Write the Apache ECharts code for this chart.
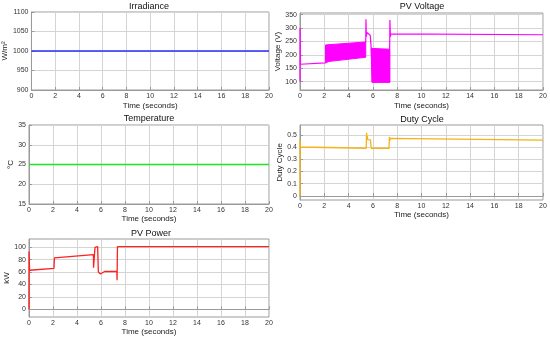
<!DOCTYPE html>
<html>
<head>
<meta charset="utf-8">
<script src="https://cdn.jsdelivr.net/npm/echarts@6/dist/echarts.min.js"></script>
<style>
html,body{margin:0;padding:0;background:#fff;}
#c{width:550px;height:339px;}
</style>
</head>
<body>
<div id="c"></div>
<script>
// ---------- data ----------
const titles = ['Irradiance', 'PV Voltage', 'Temperature', 'Duty Cycle', 'PV Power'];
const yNames = ['W/m\u00B2', 'Voltage (V)', '\u00B0C', 'Duty Cycle', 'kW'];
const xName = 'Time (seconds)';
const xTicks = [0, 2, 4, 6, 8, 10, 12, 14, 16, 18, 20];

const irrT = [0, 20];
const irrV = [1000, 1000];
const irrTicks = [900, 950, 1000, 1050, 1100];

const tempT = [0, 20];
const tempV = [25, 25];
const tempTicks = [15, 20, 25, 30, 35];

const voltT = [0, 0.005, 0.04, 0.1, 2.08, 2.1, 5.41, 5.43, 5.46, 5.5, 5.56, 5.78, 5.86, 5.95, 7.38, 7.38, 7.40, 7.44, 7.47, 7.55, 20];
const voltV = [100, 300, 165, 163, 170, 174, 248, 333, 268, 283, 276, 273, 224, 98, 98, 221, 330, 268, 278, 275, 275];
// oscillation envelopes (lower / upper edge of the switching band)
const band1T = [2.1, 5.41];
const band1Lo = [174, 191];
const band1Hi = [237, 248];
const band2T = [5.86, 5.95, 7.38];
const band2Lo = [224, 98, 98];
const band2Hi = [224, 224, 221];
const voltTicks = [100, 150, 200, 250, 300, 350];

const dutyT = [0, 0.005, 0.03, 0.08, 5.45, 5.48, 5.51, 5.54, 5.57, 5.62, 5.8, 5.86, 7.33, 7.36, 7.39, 7.43, 7.5, 20];
const dutyV = [0, 0.46, 0.40, 0.39, 0.39, 0.516, 0.46, 0.49, 0.46, 0.465, 0.458, 0.39, 0.39, 0.483, 0.45, 0.47, 0.456, 0.456];
const dutyTicks = [0, 0.1, 0.2, 0.3, 0.4, 0.5];

const powT = [0, 0.005, 0.05, 2.08, 2.12, 5.37, 5.38, 5.45, 5.5, 5.6, 5.72, 5.78, 5.85, 5.95, 6.1, 6.3, 7.32, 7.34, 7.37, 7.42, 20];
const powV = [0, 93, 63, 66, 83, 88, 67, 70, 100, 101, 101, 60, 58, 57, 60, 61, 61, 47, 101, 101, 101];
const powTicks = [0, 20, 40, 60, 80, 100];

// ---------- layout / style ----------
const FONT = '"Liberation Sans", Arial, Helvetica, sans-serif';
const AX = '#9a9a9a';
const GRIDLINE = '#d4d4d4';
const TXT = '#333';

const grids = [
  {left: 29, top: 12, width: 240, height: 78},
  {left: 300, top: 13, width: 243, height: 77},
  {left: 29, top: 125, width: 240, height: 79},
  {left: 300, top: 125, width: 243, height: 75},
  {left: 29, top: 239, width: 240, height: 78}
];
const yRanges = [[900, 1100], [69, 356], [15, 35], [-0.033, 0.58], [-12.3, 113.3]];
const yTickSets = [irrTicks, voltTicks, tempTicks, dutyTicks, powTicks];
const yNameGaps = [15, 13, 12, 13, 15];
const xNameGaps = [12, 12, 10, 11, 10];
const titlePos = [[149, 2], [422, 2], [149, 114], [422, 115], [151, 229]];

function pairs(t, v) { return t.map((x, i) => [x, v[i]]); }

function bandSeries(T, Lo, Hi) {
  return {
    type: 'custom', coordinateSystem: 'cartesian2d', xAxisIndex: 1, yAxisIndex: 1, z: 3,
    data: T.slice(0, -1).map((t, i) => [t, Lo[i], Hi[i]]),
    encode: {x: 0, y: [1, 2]},
    renderItem: function (params, api) {
      const i = params.dataIndex;
      const pts = [
        api.coord([T[i], Lo[i]]), api.coord([T[i + 1], Lo[i + 1]]),
        api.coord([T[i + 1], Hi[i + 1]]), api.coord([T[i], Hi[i]])
      ];
      return {type: 'polygon', shape: {points: pts},
        style: {fill: '#ff00ff', stroke: '#ff00ff', lineWidth: 1}};
    }
  };
}

const option = {
  animation: false,
  backgroundColor: '#fff',
  textStyle: {fontFamily: FONT},
  title: titles.map((t, i) => ({
    text: t, left: titlePos[i][0], top: titlePos[i][1], textAlign: 'center', padding: 0,
    textStyle: {fontSize: 9, fontWeight: 'normal', color: '#111', fontFamily: FONT}
  })),
  grid: grids.map(g => Object.assign({show: true, borderColor: AX, borderWidth: 1, backgroundColor: 'transparent'}, g)),
  xAxis: grids.map((g, i) => ({
    type: 'value', gridIndex: i, min: 0, max: 20, interval: 2,
    name: xName, nameLocation: 'middle', nameGap: xNameGaps[i],
    nameTextStyle: {fontSize: 8, color: '#222', fontFamily: FONT},
    axisLine: {show: true, lineStyle: {color: AX, width: 1}},
    axisTick: {show: true, inside: true, length: 3, lineStyle: {color: AX}},
    axisLabel: {fontSize: 7, color: TXT, margin: 3, fontFamily: FONT, formatter: v => String(v)},
    splitLine: {show: true, lineStyle: {color: GRIDLINE, width: 1}}
  })),
  yAxis: grids.map((g, i) => ({
    type: 'value', gridIndex: i, min: yRanges[i][0], max: yRanges[i][1],
    name: yNames[i], nameLocation: 'middle', nameGap: yNameGaps[i],
    nameTextStyle: {fontSize: 8, color: '#222', fontFamily: FONT},
    axisLine: {show: true, lineStyle: {color: AX, width: 1}},
    axisTick: {show: true, inside: true, length: 3, lineStyle: {color: AX}, customValues: yTickSets[i]},
    axisLabel: {fontSize: 7, color: TXT, margin: 3, fontFamily: FONT, customValues: yTickSets[i],
      formatter: v => String(+v.toFixed(4))},
    splitLine: {show: true, lineStyle: {color: GRIDLINE, width: 1}}
  })),
  series: [
    {type: 'line', xAxisIndex: 0, yAxisIndex: 0, data: pairs(irrT, irrV), symbol: 'none',
      lineStyle: {color: '#2b2bff', width: 1.5}},
    {type: 'line', xAxisIndex: 2, yAxisIndex: 2, data: pairs(tempT, tempV), symbol: 'none',
      lineStyle: {color: '#1ee61e', width: 1.3}},
    {type: 'line', xAxisIndex: 1, yAxisIndex: 1, data: pairs(voltT, voltV), symbol: 'none',
      lineStyle: {color: '#ff00ff', width: 1.2}},
    bandSeries(band1T, band1Lo, band1Hi),
    bandSeries(band2T, band2Lo, band2Hi),
    {type: 'line', xAxisIndex: 3, yAxisIndex: 3, data: pairs(dutyT, dutyV), symbol: 'none',
      lineStyle: {color: '#f3b319', width: 1.3}},
    {type: 'line', xAxisIndex: 4, yAxisIndex: 4, data: pairs(powT, powV), symbol: 'none',
      lineStyle: {color: '#ff2020', width: 1.3}}
  ]
};

const chart = echarts.init(document.getElementById('c'), null, {renderer: 'canvas'});
chart.setOption(option);
</script>
</body>
</html>
